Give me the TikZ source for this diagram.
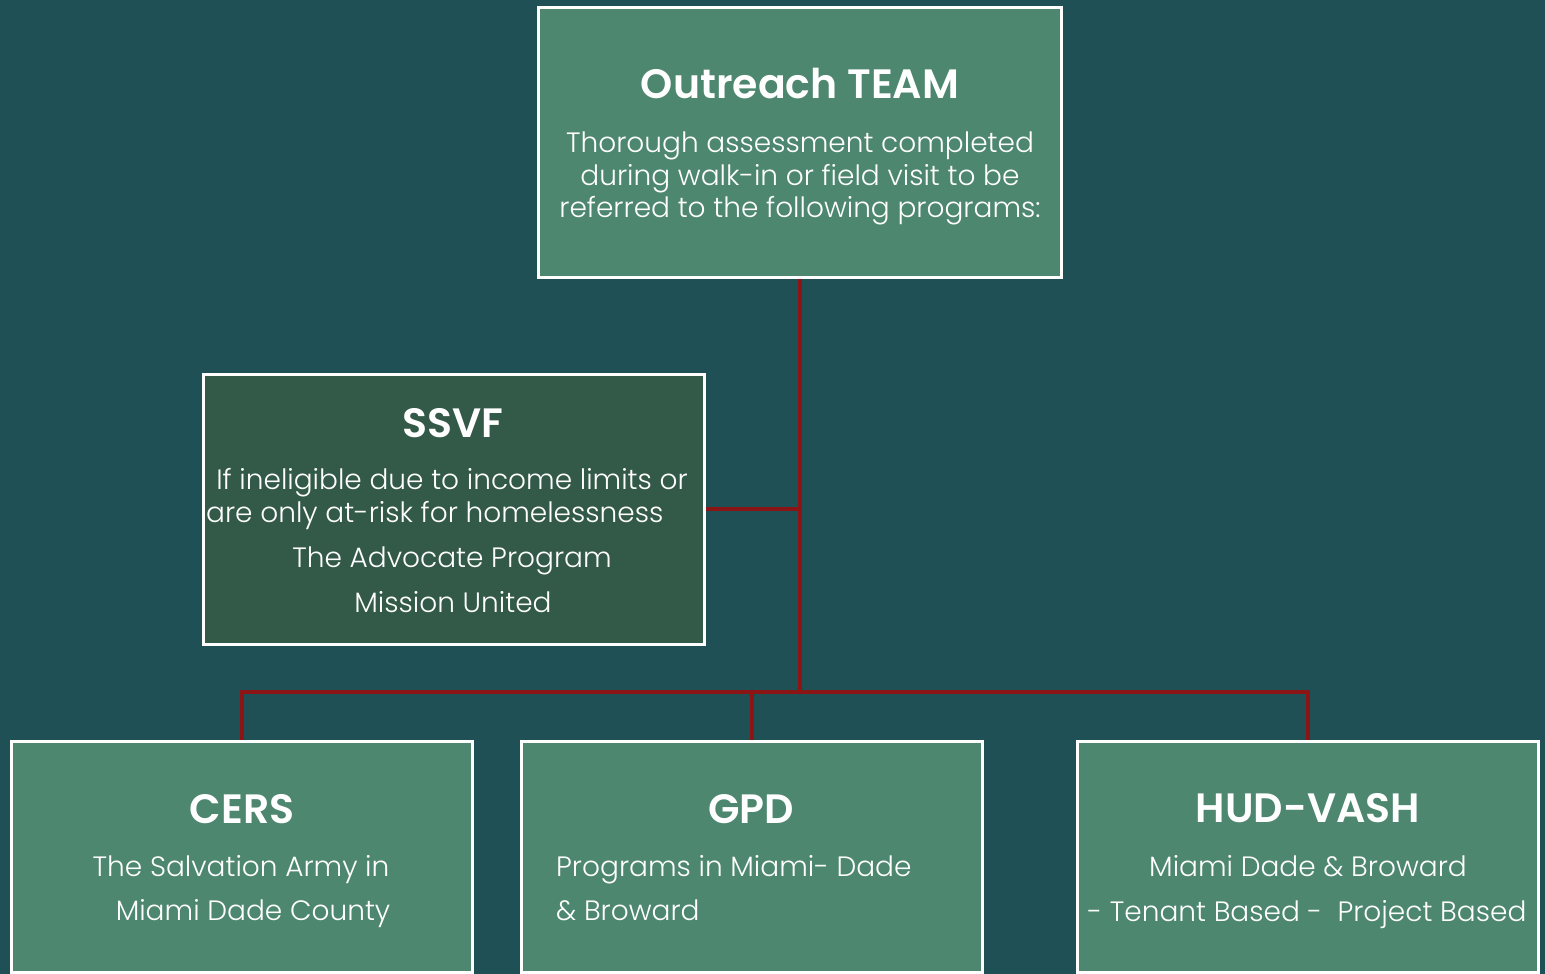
\documentclass[tikz,border=0pt]{standalone}
\usepackage{fontspec}
\setmainfont{Poppins}[UprightFont={* Light},BoldFont={* SemiBold}]
\usetikzlibrary{positioning}

\definecolor{bgteal}{HTML}{1F5055}
\definecolor{boxgreen}{HTML}{4D876F}
\definecolor{ssvfgreen}{HTML}{335A48}
\definecolor{linkred}{HTML}{8B1414}

\tikzset{
  box/.style={draw=white, line width=3pt, fill=boxgreen, inner sep=0pt},
  boxtitle/.style={text=white, anchor=base, inner sep=0pt, font=\fontsize{41}{46}\selectfont\bfseries},
  boxtext/.style={text=white, anchor=base, inner sep=0pt, font=\fontsize{28}{33}\selectfont},
  link/.style={draw=linkred, line width=4pt}
}

\begin{document}
\begin{tikzpicture}[x=1pt,y=-1pt]
\fill[bgteal] (0,0) rectangle (1545,974);
\useasboundingbox (0,0) rectangle (1545,974);

% boxes
\node[box, minimum width=523pt, minimum height=269pt] (outreach) at (800,142.5) {};
\node[box, fill=ssvfgreen, minimum width=501pt, minimum height=270pt] (ssvf) at (453.5,509) {};
\node[box, minimum width=461pt, minimum height=231pt] (cers) at (241.5,856.5) {};
\node[box, minimum width=461pt, minimum height=231pt] (gpd) at (751.5,856.5) {};
\node[box, minimum width=461pt, minimum height=231pt] (hud) at (1307.5,856.5) {};

% connectors
\coordinate (bus) at (800,692);
\draw[link] (outreach.south) -- (bus);
\draw[link] (ssvf.east) -- (ssvf.east -| bus);
\draw[link] (cers.north) -- (cers.north |- bus) -- (hud.north |- bus) -- (hud.north);
\draw[link] (gpd.north) -- (gpd.north |- bus);

% Outreach TEAM
\node[boxtitle] (outtitle) at (800,99) {Outreach TEAM};
\foreach \t/\y [count=\i] in {Thorough assessment completed/152,
  during walk-in or field visit to be/185,
  referred to the following programs:/217}
  \node[boxtext] (outline\i) at (800,\y) {\t};

% SSVF
\node[boxtitle] (ssvftitle) at (453,437) {SSVF};
\node[boxtext] (ssvfa) at (452,489) {If ineligible due to income limits or};
\node[boxtext, anchor=base west] (ssvfb) at (206,522) {are only at-risk for homelessness};
\node[boxtext] (ssvfc) at (452,567) {The Advocate Program};
\node[boxtext] (ssvfd) at (453,612) {Mission United};

% CERS
\node[boxtitle] (cerstitle) at (242,823) {CERS};
\node[boxtext] (cersa) at (241,876) {The Salvation Army in};
\node[boxtext] (cersb) at (253,920) {Miami Dade County};

% GPD
\node[boxtitle] (gpdtitle) at (751,823) {GPD};
\node[boxtext, anchor=base west] (gpda) at (556,876) {Programs in Miami- Dade};
\node[boxtext, anchor=base west] (gpdb) at (556,920) {\& Broward};

% HUD-VASH
\node[boxtitle] (hudtitle) at (1308,822) {HUD-VASH};
\node[boxtext] (huda) at (1308,876) {Miami Dade \& Broward};
\node[boxtext] (hudb) at (1307,921) {- Tenant Based -\ \ Project Based};
\end{tikzpicture}
\end{document}
